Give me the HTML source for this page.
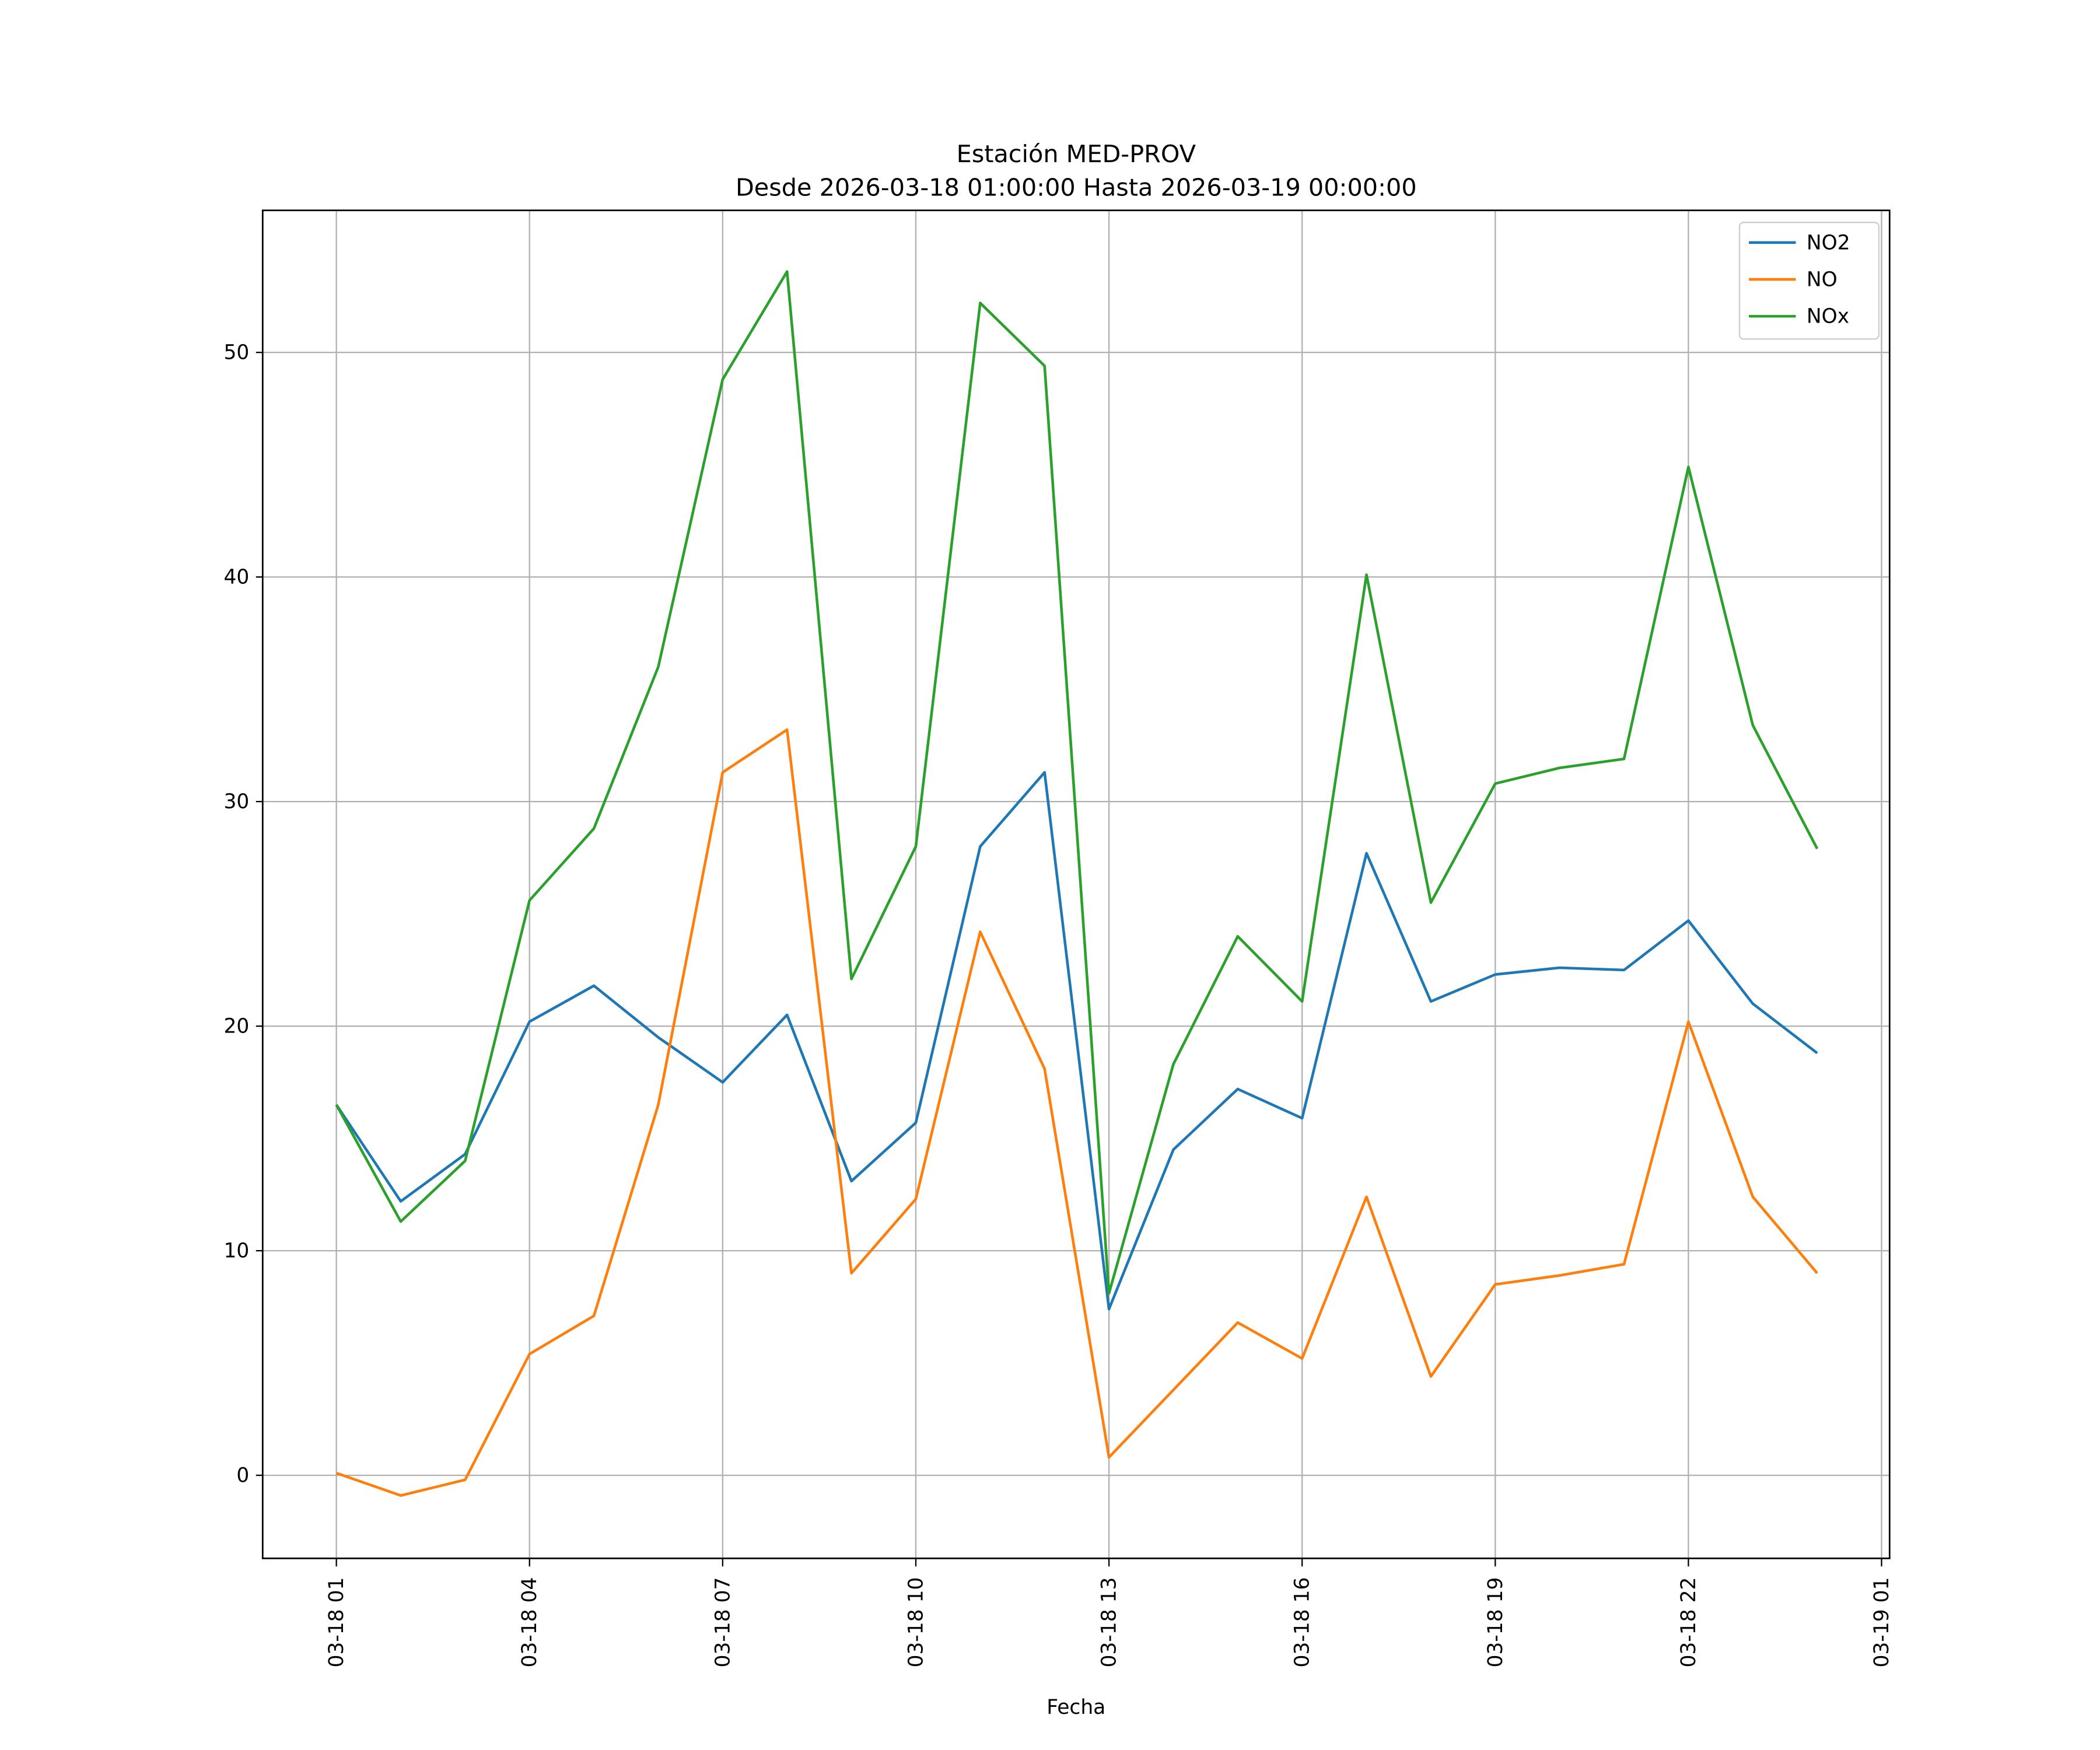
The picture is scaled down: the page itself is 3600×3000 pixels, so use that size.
<!DOCTYPE html>
<html><head><meta charset="utf-8">
<style>
html,body{margin:0;padding:0;background:#fff;}
svg{display:block;font-family:"DejaVu Sans","Liberation Sans",sans-serif;}
</style></head>
<body>
<svg id="chart" width="3600" height="3000" viewBox="0 0 1567 1306" preserveAspectRatio="none" xmlns="http://www.w3.org/2000/svg">
<rect width="1567" height="1306" fill="#fff"/>
<text x="803" y="121" text-anchor="middle" font-size="18">Estación MED-PROV</text>
<text x="803" y="146" text-anchor="middle" font-size="18">Desde 2026-03-18 01:00:00 Hasta 2026-03-19 00:00:00</text>
<g id="grid"></g>
<g id="axes"></g>
<g id="series"></g>
<rect x="196" y="157" width="1214" height="1006" fill="none" stroke="#000" stroke-width="1.2"/>
<text x="803" y="1279" text-anchor="middle" font-size="15">Fecha</text>
<g id="legend"></g>
</svg>
<script>
const hours = [1,2,3,4,5,6,7,8,9,10,11,12,13,14,15,16,17,18,19,20,21,22,23,24];
const no2 = [16.5,12.2,14.3,20.2,21.8,19.5,17.5,20.5,13.1,15.7,28.0,31.3,7.4,14.5,17.2,15.9,27.7,21.1,22.3,22.6,22.5,24.7,21.0,18.8];
const no = [0.1,-0.9,-0.2,5.4,7.1,16.5,31.3,33.2,9.0,12.3,24.2,18.1,0.8,3.8,6.8,5.2,12.4,4.4,8.5,8.9,9.4,20.2,12.4,9.0];
const nox = [16.5,11.3,14.0,25.6,28.8,36.0,48.8,53.6,22.1,28.0,52.2,49.4,8.1,18.3,24.0,21.1,40.1,25.5,30.8,31.5,31.9,44.9,33.4,27.9];
const yTicks = [0,10,20,30,40,50];
const xTickHours = [1,4,7,10,13,16,19,22,25];
const xTickLabels = ["03-18 01","03-18 04","03-18 07","03-18 10","03-18 13","03-18 16","03-18 19","03-18 22","03-19 01"];
const seriesNames = ["NO2","NO","NOx"];
const seriesColors = ["#1f77b4","#ff7f0e","#2ca02c"];

const NS="http://www.w3.org/2000/svg";
const X0=251, X1=1404, Y0=1101, Y50=263;
function xs(h){return X0+(h-1)*(X1-X0)/24;}
function ys(v){return Y0+v*(Y50-Y0)/50;}
function mk(tag,attrs,parent){const e=document.createElementNS(NS,tag);for(const k in attrs)e.setAttribute(k,attrs[k]);parent.appendChild(e);return e;}
const grid=document.getElementById('grid'), axes=document.getElementById('axes'), series=document.getElementById('series'), legend=document.getElementById('legend');

yTicks.forEach(t=>{
  const y=ys(t);
  const g=mk('line',{x1:196,x2:1410,y1:y,y2:y,stroke:'#b0b0b0','stroke-width':1},grid);
  
  
  const tk=mk('line',{x1:191,x2:196,y1:y,y2:y,stroke:'#000','stroke-width':1},axes);
  
  
  const tx=mk('text',{x:186,y:y+5,'text-anchor':'end','font-size':15},axes);
  tx.textContent=t;
  
  
});
xTickHours.forEach((h,i)=>{
  const x=xs(h);
  const g=mk('line',{x1:x,x2:x,y1:157,y2:1163,stroke:'#b0b0b0','stroke-width':1},grid);
  
  
  const tk=mk('line',{x1:x,x2:x,y1:1163,y2:1169,stroke:'#000','stroke-width':1},axes);
  
  
  const tx=mk('text',{x:0,y:0,'text-anchor':'end','font-size':15,transform:`translate(${x+5},1177) rotate(-90)`},axes);
  tx.textContent=xTickLabels[i];
  
  
});
[no2,no,nox].forEach((arr,si)=>{
  const pts=arr.map((v,i)=>xs(hours[i]).toFixed(2)+','+ys(v).toFixed(2)).join(' ');
  const p=mk('polyline',{points:pts,fill:'none',stroke:seriesColors[si],'stroke-width':2,'stroke-linejoin':'round'},series);
  
  
});
const box=mk('rect',{x:1298,y:166,width:104,height:87,rx:3,fill:'#fff','fill-opacity':0.8,stroke:'#ccc','stroke-width':1},legend);


seriesNames.forEach((n,i)=>{
  const y=181+i*27.5;
  const l=mk('line',{x1:1305,x2:1340,y1:y,y2:y,stroke:seriesColors[i],'stroke-width':2},legend);
  
  
  const t=mk('text',{x:1348,y:y+5,'font-size':15},legend);
  t.textContent=n;
  
  
});
</script>
</body></html>
